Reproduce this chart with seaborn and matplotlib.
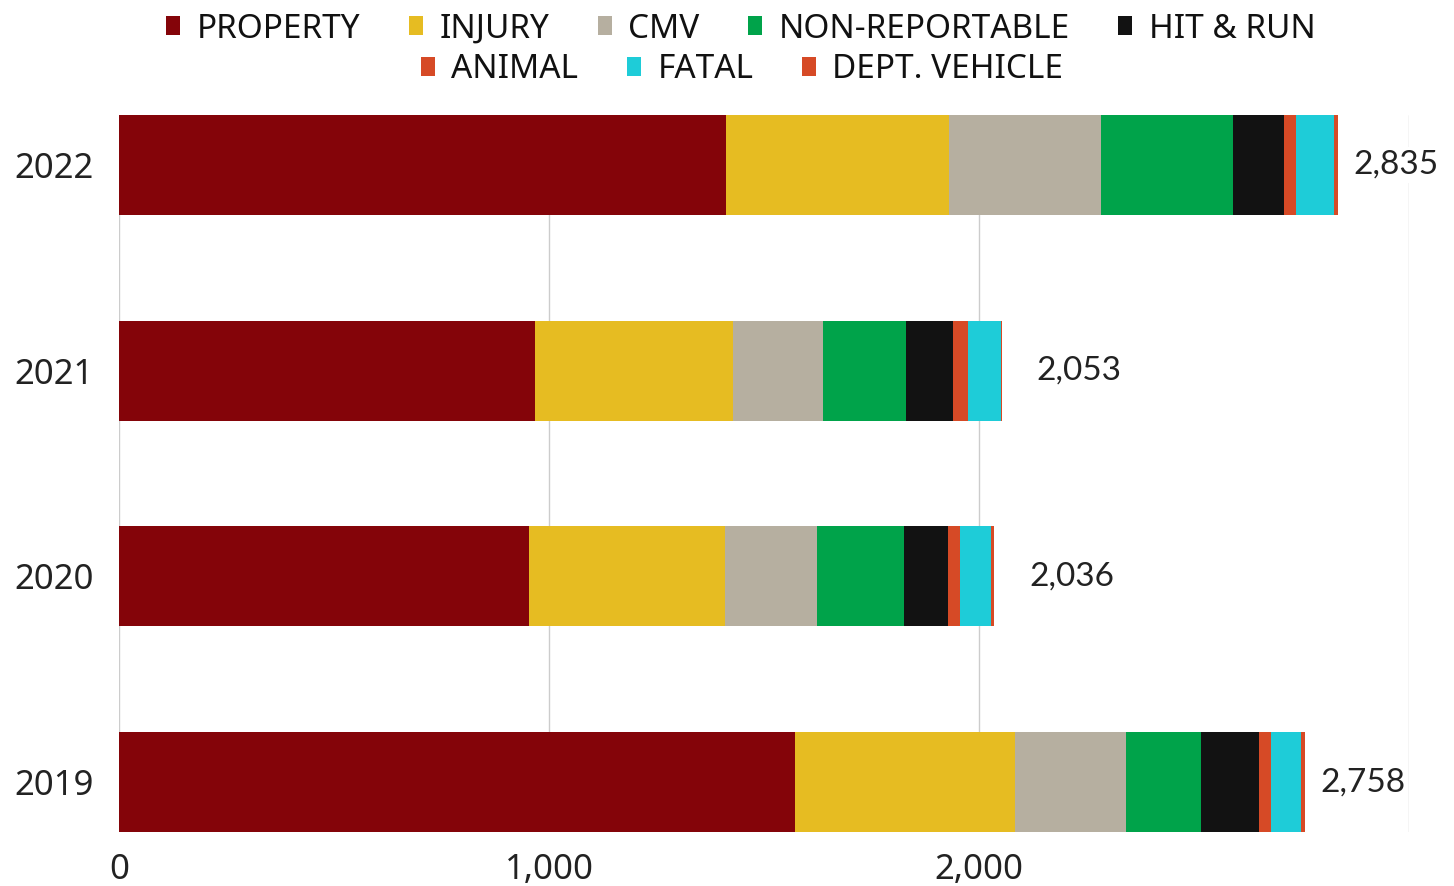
import pandas as pd
import matplotlib.pyplot as plt
import seaborn as sns
from matplotlib.patches import Patch

sns.set_style("white")
plt.rcParams['font.family'] = ['Noto Sans', 'DejaVu Sans']

# Dados
anos = ['2022', '2021', '2020', '2019']
categorias = ['PROPERTY', 'INJURY', 'CMV', 'NON-REPORTABLE', 'HIT & RUN',
              'ANIMAL', 'FATAL', 'DEPT. VEHICLE']
property_ = [1411, 967, 953, 1572]
injury = [519, 461, 456, 512]
cmv = [354, 209, 214, 258]
non_reportable = [307, 193, 202, 174]
hit_run = [119, 109, 102, 135]
animal = [27, 35, 28, 28]
fatal = [89, 76, 74, 70]
dept_vehicle = [9, 3, 7, 9]
totais = [2835, 2053, 2036, 2758]

cores = ['#840409', '#E6BC22', '#B6AFA0', '#00A34A', '#121212',
         '#D64A26', '#1ECCD8', '#D64A26']

df = pd.DataFrame({'ano': anos,
                   'PROPERTY': property_, 'INJURY': injury, 'CMV': cmv,
                   'NON-REPORTABLE': non_reportable, 'HIT & RUN': hit_run,
                   'ANIMAL': animal, 'FATAL': fatal,
                   'DEPT. VEHICLE': dept_vehicle})

# Somas acumuladas para empilhar (desenha do maior para o menor)
acum = df[categorias].cumsum(axis=1)
acum['ano'] = df['ano']

fig = plt.figure(figsize=(14.54, 8.86), dpi=100)
ax = fig.add_axes([119 / 1454, 54 / 886, 1290 / 1454, 717 / 886])

for cat, cor in reversed(list(zip(categorias, cores))):
    sns.barplot(data=acum, x=cat, y='ano', order=anos, color=cor,
                width=0.485, saturation=1, orient='h', linewidth=0,
                edgecolor='none', ax=ax, zorder=3)

ax.set_xlim(0, 3000)
ax.set_ylim(3.2425, -0.2425)
ax.set_xticks([0, 1000, 2000, 3000])
ax.set_xticklabels(['0', '1,000', '2,000', ''])
ax.grid(axis='x', color='#cccccc', linewidth=1, zorder=0)
ax.grid(axis='y', visible=False)
for s in ax.spines.values():
    s.set_visible(False)
ax.set_xlabel('')
ax.set_ylabel('')
ax.tick_params(axis='y', length=0, pad=18, labelsize=25, labelcolor='#222222')
ax.tick_params(axis='x', length=0, pad=15, labelsize=25, labelcolor='#222222')

# Totais
for i, tot in enumerate(totais):
    desloc = 35 if tot > 2500 else 80
    ax.text(tot + desloc, i, f'{tot:,}', va='center', ha='left', fontsize=24,
            family=['Lato', 'DejaVu Sans'], color='#222222', zorder=5,
            bbox=dict(facecolor='white', edgecolor='none', pad=2))

# Legenda em duas linhas
handles = [Patch(facecolor=c, edgecolor='none', label=l)
           for l, c in zip(categorias, cores)]
kw = dict(loc='center', frameon=False, fontsize=24, handlelength=0.42,
          handleheight=0.5, handletextpad=0.5, columnspacing=1.45,
          labelcolor='#111111', borderpad=0)
fig.legend(handles=handles[:5], ncol=5,
           bbox_to_anchor=(741 / 1454, 1 - 29 / 886), **kw)
fig.legend(handles=handles[5:], ncol=3,
           bbox_to_anchor=(742 / 1454, 1 - 70 / 886), **kw)

fig.savefig('out.png', dpi=100)
